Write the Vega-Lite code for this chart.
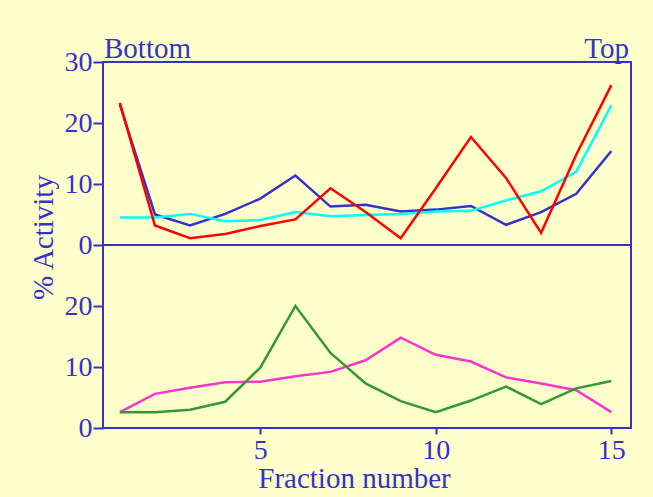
{
  "$schema": "https://vega.github.io/schema/vega-lite/v6.json",
  "background": "#FFFFCC",
  "padding": {"left": 28, "top": 34, "right": 30, "bottom": 30},
  "spacing": 0,
  "bounds": "flush",
  "datasets": {
    "top": [
      {"fraction": 1, "activity": 23.0, "series": "Blue"},
      {"fraction": 2, "activity": 5.0, "series": "Blue"},
      {"fraction": 3, "activity": 3.2, "series": "Blue"},
      {"fraction": 4, "activity": 5.1, "series": "Blue"},
      {"fraction": 5, "activity": 7.6, "series": "Blue"},
      {"fraction": 6, "activity": 11.4, "series": "Blue"},
      {"fraction": 7, "activity": 6.3, "series": "Blue"},
      {"fraction": 8, "activity": 6.6, "series": "Blue"},
      {"fraction": 9, "activity": 5.5, "series": "Blue"},
      {"fraction": 10, "activity": 5.8, "series": "Blue"},
      {"fraction": 11, "activity": 6.4, "series": "Blue"},
      {"fraction": 12, "activity": 3.3, "series": "Blue"},
      {"fraction": 13, "activity": 5.4, "series": "Blue"},
      {"fraction": 14, "activity": 8.4, "series": "Blue"},
      {"fraction": 15, "activity": 15.4, "series": "Blue"},
      {"fraction": 1, "activity": 4.5, "series": "Cyan"},
      {"fraction": 2, "activity": 4.5, "series": "Cyan"},
      {"fraction": 3, "activity": 5.1, "series": "Cyan"},
      {"fraction": 4, "activity": 3.9, "series": "Cyan"},
      {"fraction": 5, "activity": 4.1, "series": "Cyan"},
      {"fraction": 6, "activity": 5.4, "series": "Cyan"},
      {"fraction": 7, "activity": 4.7, "series": "Cyan"},
      {"fraction": 8, "activity": 4.9, "series": "Cyan"},
      {"fraction": 9, "activity": 5.1, "series": "Cyan"},
      {"fraction": 10, "activity": 5.5, "series": "Cyan"},
      {"fraction": 11, "activity": 5.6, "series": "Cyan"},
      {"fraction": 12, "activity": 7.3, "series": "Cyan"},
      {"fraction": 13, "activity": 8.8, "series": "Cyan"},
      {"fraction": 14, "activity": 12.0, "series": "Cyan"},
      {"fraction": 15, "activity": 22.9, "series": "Cyan"},
      {"fraction": 1, "activity": 23.3, "series": "Red"},
      {"fraction": 2, "activity": 3.2, "series": "Red"},
      {"fraction": 3, "activity": 1.1, "series": "Red"},
      {"fraction": 4, "activity": 1.8, "series": "Red"},
      {"fraction": 5, "activity": 3.1, "series": "Red"},
      {"fraction": 6, "activity": 4.2, "series": "Red"},
      {"fraction": 7, "activity": 9.3, "series": "Red"},
      {"fraction": 8, "activity": 5.4, "series": "Red"},
      {"fraction": 9, "activity": 1.1, "series": "Red"},
      {"fraction": 10, "activity": 9.3, "series": "Red"},
      {"fraction": 11, "activity": 17.7, "series": "Red"},
      {"fraction": 12, "activity": 11.0, "series": "Red"},
      {"fraction": 13, "activity": 2.0, "series": "Red"},
      {"fraction": 14, "activity": 14.8, "series": "Red"},
      {"fraction": 15, "activity": 26.2, "series": "Red"}
    ],
    "bottom": [
      {"fraction": 1, "activity": 2.6, "series": "Pink"},
      {"fraction": 2, "activity": 5.6, "series": "Pink"},
      {"fraction": 3, "activity": 6.6, "series": "Pink"},
      {"fraction": 4, "activity": 7.5, "series": "Pink"},
      {"fraction": 5, "activity": 7.6, "series": "Pink"},
      {"fraction": 6, "activity": 8.5, "series": "Pink"},
      {"fraction": 7, "activity": 9.2, "series": "Pink"},
      {"fraction": 8, "activity": 11.1, "series": "Pink"},
      {"fraction": 9, "activity": 14.8, "series": "Pink"},
      {"fraction": 10, "activity": 12.0, "series": "Pink"},
      {"fraction": 11, "activity": 10.9, "series": "Pink"},
      {"fraction": 12, "activity": 8.3, "series": "Pink"},
      {"fraction": 13, "activity": 7.3, "series": "Pink"},
      {"fraction": 14, "activity": 6.2, "series": "Pink"},
      {"fraction": 15, "activity": 2.6, "series": "Pink"},
      {"fraction": 1, "activity": 2.6, "series": "Green"},
      {"fraction": 2, "activity": 2.6, "series": "Green"},
      {"fraction": 3, "activity": 3.0, "series": "Green"},
      {"fraction": 4, "activity": 4.3, "series": "Green"},
      {"fraction": 5, "activity": 9.9, "series": "Green"},
      {"fraction": 6, "activity": 20.0, "series": "Green"},
      {"fraction": 7, "activity": 12.3, "series": "Green"},
      {"fraction": 8, "activity": 7.3, "series": "Green"},
      {"fraction": 9, "activity": 4.4, "series": "Green"},
      {"fraction": 10, "activity": 2.6, "series": "Green"},
      {"fraction": 11, "activity": 4.5, "series": "Green"},
      {"fraction": 12, "activity": 6.8, "series": "Green"},
      {"fraction": 13, "activity": 3.9, "series": "Green"},
      {"fraction": 14, "activity": 6.5, "series": "Green"},
      {"fraction": 15, "activity": 7.7, "series": "Green"}
    ],
    "ends": [
      {"label": "Bottom", "fraction": 0.52, "activity": 30},
      {"label": "Top", "fraction": 15.56, "activity": 30}
    ]
  },
  "vconcat": [
    {
      "width": 528,
      "height": 183,
      "layer": [
        {
          "data": {"name": "top"},
          "mark": {"type": "line", "strokeWidth": 2.5},
          "encoding": {
            "x": {"field": "fraction", "type": "quantitative", "scale": {"domain": [0.52, 15.56], "nice": false, "zero": false}, "axis": null},
            "y": {"field": "activity", "type": "quantitative", "scale": {"domain": [0, 30], "nice": false},
              "axis": {"values": [0, 10, 20, 30], "title": "% Activity", "titleX": -51, "titleY": 175, "titleBaseline": "alphabetic", "titleAlign": "center", "titleAngle": -90}},
            "color": {"field": "series", "type": "nominal", "sort": null, "scale": {"domain": ["Blue", "Cyan", "Red"], "range": ["#3333CC", "#00FFFF", "#FF0000"]}, "legend": null}
          }
        },
        {
          "data": {"name": "ends"},
          "transform": [{"filter": "datum.label === 'Bottom'"}],
          "mark": {"type": "text", "align": "left", "baseline": "alphabetic", "dx": 1, "dy": -4, "font": "Liberation Serif", "fontSize": 29, "color": "#3333CC"},
          "encoding": {
            "x": {"field": "fraction", "type": "quantitative"},
            "y": {"field": "activity", "type": "quantitative"},
            "text": {"field": "label"}
          }
        },
        {
          "data": {"name": "ends"},
          "transform": [{"filter": "datum.label === 'Top'"}],
          "mark": {"type": "text", "align": "right", "baseline": "alphabetic", "dx": -2, "dy": -4, "font": "Liberation Serif", "fontSize": 29, "color": "#3333CC"},
          "encoding": {
            "x": {"field": "fraction", "type": "quantitative"},
            "y": {"field": "activity", "type": "quantitative"},
            "text": {"field": "label"}
          }
        }
      ]
    },
    {
      "width": 528,
      "height": 183,
      "data": {"name": "bottom"},
      "mark": {"type": "line", "strokeWidth": 2.5},
      "encoding": {
        "x": {"field": "fraction", "type": "quantitative", "scale": {"domain": [0.52, 15.56], "nice": false, "zero": false},
          "axis": {"values": [5, 10, 15], "title": "Fraction number", "tickSize": 6, "labelPadding": 2, "titleX": 251, "titleY": 59, "titleBaseline": "alphabetic", "titleAlign": "center"}},
        "y": {"field": "activity", "type": "quantitative", "scale": {"domain": [0, 30], "nice": false},
          "axis": {"values": [0, 10, 20], "title": null}},
        "color": {"field": "series", "type": "nominal", "sort": null, "scale": {"domain": ["Pink", "Green"], "range": ["#FF33CC", "#339933"]}, "legend": null}
      }
    }
  ],
  "resolve": {"scale": {"color": "independent", "y": "independent"}},
  "config": {
    "view": {"stroke": "#3333CC", "strokeWidth": 2},
    "axis": {
      "domain": false,
      "grid": false,
      "tickColor": "#3333CC",
      "tickWidth": 2,
      "labelColor": "#3333CC",
      "labelFont": "Liberation Serif",
      "labelFontSize": 28,
      "titleColor": "#3333CC",
      "titleFont": "Liberation Serif",
      "titleFontSize": 29,
      "titleFontWeight": "normal"
    },
    "axisY": {"tickSize": 10, "labelPadding": 1, "labelBaseline": "middle"},
    "axisX": {"labelBaseline": "top"}
  }
}
